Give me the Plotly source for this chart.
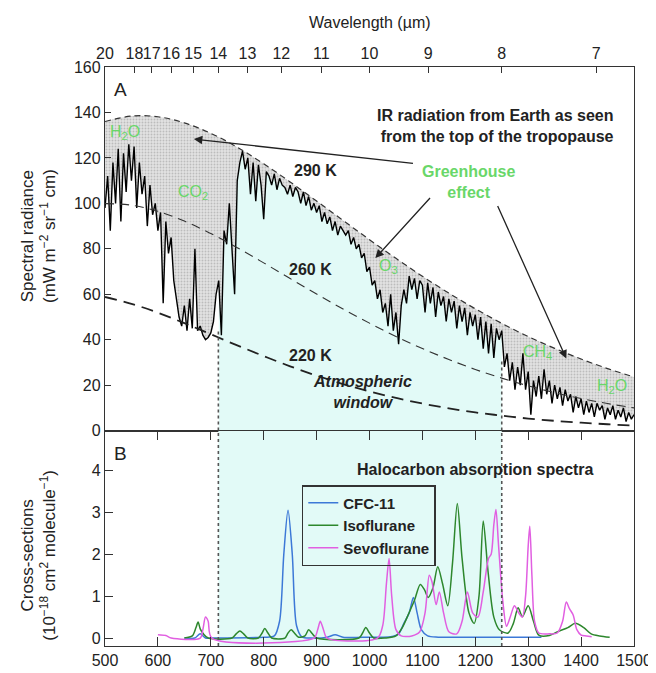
import plotly.graph_objects as go

# ---------------- data ----------------
# Panel A: measured spectrum (wavenumber cm-1, radiance mW m-2 sr-1 cm)
spec_nu = list(range(500, 1505, 5))
spec_rad = [
    98, 112, 88, 118, 100, 124, 92, 122, 105, 126,           # 500-545
    110, 125, 98, 118, 104, 112, 90, 108, 95, 100,           # 550-595
    88, 96, 56, 92, 78, 85, 66, 58, 50, 46,                  # 600-645
    55, 44, 58, 45, 80, 44, 46, 42, 40, 41,                  # 650-695
    43, 48, 60, 66, 42, 88, 82, 100, 77, 60,                 # 700-745
    110, 118, 123, 115, 120, 104, 118, 101, 117, 108,        # 750-795
    93, 114, 112, 108, 113, 106, 111, 108, 107, 104,         # 800-845
    108, 103, 107, 105, 100, 105, 99, 103, 97, 100,          # 850-895
    96, 99, 92, 96, 91, 94, 88, 92, 86, 90,                  # 900-945
    88, 86, 88, 82, 85, 80, 82, 76, 78, 70,                  # 950-995
    72, 64, 66, 58, 62, 52, 56, 46, 60, 44,                  # 1000-1045
    52, 38, 55, 62, 56, 68, 62, 67, 58, 66,                  # 1050-1095
    64, 52, 65, 56, 63, 50, 61, 55, 59, 48,                  # 1100-1145
    58, 52, 57, 45, 55, 48, 54, 42, 52, 46,                  # 1150-1195
    51, 40, 50, 36, 48, 34, 47, 32, 45, 40,                  # 1200-1245
    44, 28, 34, 22, 30, 18, 28, 20, 34, 18,                  # 1250-1295
    26, 7, 22, 15, 24, 14, 27, 16, 22, 12,                   # 1300-1345
    20, 14, 19, 11, 18, 13, 16, 8, 15, 10,                   # 1350-1395
    14, 7, 13, 8, 12, 6, 12, 9, 11, 5,                       # 1400-1445
    10, 7, 11, 5, 9, 6, 10, 4, 8, 5,                         # 1450-1495
    7,                                                       # 1500
]

# Blackbody reference curves
bb_nu = [500, 550, 600, 650, 700, 750, 800, 850, 900, 950, 1000,
         1050, 1100, 1150, 1200, 1250, 1300, 1350, 1400, 1450, 1500]
bb_290 = [136.0, 138.4, 138.1, 135.4, 130.8, 124.7, 117.4, 109.4, 101.0, 92.5, 84.0,
          75.8, 67.9, 60.5, 53.6, 47.2, 41.4, 36.2, 31.5, 27.3, 23.6]
bb_260 = [99.9, 99.2, 96.5, 92.2, 86.7, 80.5, 73.8, 66.9, 60.1, 53.5, 47.3,
          41.4, 36.1, 31.3, 26.9, 23.1, 19.7, 16.7, 14.1, 11.9, 10.0]
bb_220 = [58.8, 55.8, 51.9, 47.3, 42.4, 37.5, 32.8, 28.3, 24.2, 20.5, 17.2,
          14.4, 11.9, 9.8, 8.0, 6.6, 5.3, 4.3, 3.5, 2.8, 2.2]

# Panel B: halocarbon cross-sections (1e-18 cm2 molecule-1)
cfc_nu = [650, 670, 680, 690, 700, 800, 820, 830, 838, 846, 854, 862, 872, 890,
          920, 935, 950, 1000, 1040, 1055, 1065, 1075, 1083, 1090, 1098, 1110,
          1130, 1200, 1325]
cfc_val = [0.0, 0.0, 0.1, 0.0, 0.0, 0.02, 0.05, 0.4, 2.0, 3.05, 2.0, 0.3, 0.03, 0.0,
           0.02, 0.08, 0.02, 0.02, 0.03, 0.1, 0.35, 0.6, 0.97, 0.6, 0.2, 0.05,
           0.02, 0.02, 0.02]

iso_nu = [650, 665, 672, 676, 680, 686, 695, 740, 748, 755, 762, 770, 790, 797,
          802, 808, 815, 840, 846, 852, 858, 866, 878, 885, 892, 900, 980, 987,
          993, 1000, 1008, 1030, 1050, 1062, 1074, 1085, 1096, 1104, 1111, 1120,
          1129, 1138, 1148, 1157, 1166, 1175, 1188, 1198, 1207, 1215, 1224, 1235,
          1246, 1262, 1272, 1281, 1289, 1300, 1310, 1320, 1340, 1357, 1375, 1389,
          1405, 1419, 1435, 1454]
iso_val = [0.0, 0.05, 0.25, 0.38, 0.22, 0.1, 0.0, 0.0, 0.1, 0.17, 0.1, 0.0, 0.0, 0.12,
           0.23, 0.12, 0.0, 0.0, 0.12, 0.2, 0.12, 0.02, 0.05, 0.2, 0.1, 0.0, 0.0, 0.12,
           0.25, 0.12, 0.0, 0.0, 0.05, 0.25, 0.58, 0.9, 1.28, 1.15, 0.97, 1.2,
           1.7, 1.3, 0.77, 1.8, 3.21, 1.9, 0.6, 0.35, 1.0, 2.79, 1.6, 0.5,
           0.19, 0.12, 0.35, 0.72, 0.51, 0.77, 0.4, 0.07, 0.06, 0.16, 0.25, 0.35,
           0.25, 0.1, 0.05, 0.02]

sevo_nu = [600, 615, 625, 680, 685, 690, 695, 702, 895, 902, 907, 913, 920, 1015,
           1025, 1032, 1037, 1042, 1050, 1060, 1080, 1095, 1105, 1113, 1118, 1126,
           1132, 1140, 1150, 1165, 1175, 1185, 1195, 1205, 1215, 1225, 1230, 1235,
           1239, 1244, 1252, 1259, 1266, 1274, 1282, 1289, 1295, 1300, 1303, 1307,
           1312, 1320, 1340, 1355, 1365, 1372, 1378, 1385, 1392, 1400, 1410, 1420]
sevo_val = [0.08, 0.06, 0.0, 0.0, 0.2, 0.5, 0.4, 0.0, 0.0, 0.2, 0.4, 0.2, 0.0, 0.0,
            0.3, 1.3, 1.9, 1.0, 0.2, 0.05, 0.05, 0.15, 0.6, 1.5, 1.35, 0.8,
            1.1, 0.6, 0.15, 0.1, 0.4, 1.1, 0.6, 0.5, 1.1, 1.9, 2.0, 2.7,
            3.07, 2.2, 0.88, 0.28, 0.5, 0.77, 0.6, 0.5, 1.0, 2.2, 2.67, 1.5,
            0.4, 0.12, 0.1, 0.12, 0.4, 0.86, 0.7, 0.55, 0.2, 0.07, 0.05, 0.03]

# Axis ticks
wl_ticks = [20, 18, 17, 16, 15, 14, 13, 12, 11, 10, 9, 8, 7]
wl_labels = ["20", "18", "17", "16", "15", "14", "13", "12", "11", "10", "9", "8", "7"]
rad_ticks = [0, 20, 40, 60, 80, 100, 120, 140, 160]
xs_ticks = [0, 1, 2, 3, 4]
nu_ticks = [500, 600, 700, 800, 900, 1000, 1100, 1200, 1300, 1400, 1500]

window_lo = 10000 / 14   # 14 um
window_hi = 10000 / 8    # 8 um

# ---------------- figure ----------------
FONT = "Liberation Sans, Arial, sans-serif"
GREEN_TXT = "rgb(105,215,105)"
CYAN = "rgb(226,250,247)"

fig = go.Figure()

# cyan atmospheric window under the spectrum (panel A)
win_x = [n for n in spec_nu if window_lo <= n <= window_hi]
win_y = [r for n, r in zip(spec_nu, spec_rad) if window_lo <= n <= window_hi]
fig.add_trace(go.Scatter(x=win_x, y=win_y, fill="tozeroy", fillcolor=CYAN,
                         line=dict(width=0), mode="lines", showlegend=False,
                         hoverinfo="skip", xaxis="x", yaxis="y"))

# 290 K envelope (invisible) then spectrum filling up to it with dotted grey
fig.add_trace(go.Scatter(x=bb_nu, y=bb_290, mode="lines", line=dict(width=0, shape="spline"),
                         showlegend=False, hoverinfo="skip", xaxis="x", yaxis="y"))
fig.add_trace(go.Scatter(x=spec_nu, y=spec_rad, mode="lines", fill="tonexty",
                         fillpattern=dict(shape=".", bgcolor="rgb(226,226,226)",
                                          fgcolor="rgb(150,150,150)", size=3, solidity=0.3),
                         line=dict(color="black", width=1.4), showlegend=False,
                         xaxis="x", yaxis="y"))

# dashed blackbody curves
fig.add_trace(go.Scatter(x=bb_nu, y=bb_290, mode="lines",
                         line=dict(color="#333", width=1.2, dash="6px,4px", shape="spline"),
                         showlegend=False, xaxis="x", yaxis="y"))
fig.add_trace(go.Scatter(x=bb_nu, y=bb_260, mode="lines",
                         line=dict(color="#333", width=1.1, dash="9px,6px", shape="spline"),
                         showlegend=False, xaxis="x", yaxis="y"))
fig.add_trace(go.Scatter(x=bb_nu, y=bb_220, mode="lines",
                         line=dict(color="#222", width=1.8, dash="12px,7px", shape="spline"),
                         showlegend=False, xaxis="x", yaxis="y"))

# panel B curves
fig.add_trace(go.Scatter(x=cfc_nu, y=cfc_val, mode="lines", name="CFC-11",
                         line=dict(color="rgb(60,120,215)", width=1.5, shape="spline", smoothing=0.8),
                         xaxis="x2", yaxis="y2"))
fig.add_trace(go.Scatter(x=iso_nu, y=iso_val, mode="lines", name="Isoflurane",
                         line=dict(color="rgb(45,135,45)", width=1.5, shape="spline", smoothing=0.8),
                         xaxis="x2", yaxis="y2"))
fig.add_trace(go.Scatter(x=sevo_nu, y=sevo_val, mode="lines", name="Sevoflurane",
                         line=dict(color="rgb(225,95,225)", width=1.5, shape="spline", smoothing=0.8),
                         xaxis="x2", yaxis="y2"))

axis_common = dict(showgrid=False, zeroline=False, showline=True, linecolor="#333",
                   linewidth=1.3, tickcolor="#333", tickwidth=1.3, tickangle=0,
                   tickfont=dict(family=FONT, size=16, color="#222"))

fig.update_layout(
    width=656, height=673,
    margin=dict(l=97, r=19, t=59, b=20),
    paper_bgcolor="white", plot_bgcolor="white",
    font=dict(family=FONT, size=16, color="#222"),
    xaxis=dict(domain=[0, 1], range=[500, 1500], anchor="y", side="top",
               tickvals=[10000 / w for w in wl_ticks], ticktext=wl_labels,
               ticks="inside", ticklen=6, mirror=True, **axis_common),
    yaxis=dict(domain=[0.372, 1], range=[0, 160], tickvals=rad_ticks,
               ticks="inside", ticklen=6, mirror=True, **axis_common),
    xaxis2=dict(domain=[0, 1], range=[500, 1500], anchor="y2", tickvals=nu_ticks,
                ticks="inside", ticklen=9, mirror="ticks", **axis_common),
    yaxis2=dict(domain=[0, 0.372], range=[-0.19, 4.95], tickvals=xs_ticks,
                ticks="inside", ticklen=8, mirror=True, **axis_common),
    legend=dict(x=0.372, y=0.278, xanchor="left", yanchor="top", traceorder="normal",
                bordercolor="#333", borderwidth=1.5, bgcolor="rgba(255,255,255,0)",
                font=dict(family=FONT, size=15, color="#222", weight="bold"),
                tracegroupgap=0, itemwidth=30),
)

# cyan window in panel B and dotted boundaries
shapes = [
    dict(type="rect", xref="x2", yref="y2", x0=window_lo, x1=window_hi, y0=-0.19, y1=4.95,
         fillcolor=CYAN, line=dict(width=0), layer="below"),
]
for xv, ytop in [(window_lo, 44), (window_hi, 31)]:
    shapes.append(dict(type="line", xref="x", yref="y", x0=xv, x1=xv, y0=0, y1=ytop,
                       line=dict(color="#555", width=1.6, dash="dot")))
    shapes.append(dict(type="line", xref="x2", yref="y2", x0=xv, x1=xv, y0=-0.19, y1=4.95,
                       line=dict(color="#555", width=1.6, dash="dot")))
fig.update_layout(shapes=shapes)

def px2paper(px, py):
    return (px - 97) / 540, (653 - py) / 594

ann = []
def text(px, py, s, size=16, color="#222", bold=False, italic=False, xanchor="center", align="center", angle=0):
    xp, yp = px2paper(px, py)
    if bold:
        s = "<b>" + s + "</b>"
    if italic:
        s = "<i>" + s + "</i>"
    ann.append(dict(xref="paper", yref="paper", x=xp, y=yp, text=s, showarrow=False,
                    xanchor=xanchor, yanchor="middle", align=align, textangle=angle,
                    font=dict(family=FONT, size=size, color=color)))

text(368, 13, "Wavelength (µm)", size=16)
text(113, 82, "A", size=19)
text(113, 455, "B", size=19)
text(619, 120, "IR radiation from Earth as seen<br>from the top of the tropopause",
     bold=True, xanchor="right", align="right")
text(468, 177, "Greenhouse<br>effect", color=GREEN_TXT, bold=True)
text(312, 165, "290 K", bold=True)
text(307, 267, "260 K", bold=True)
text(307, 355, "220 K", bold=True)
text(360, 392, "Atmospheric<br>window", bold=True, italic=True)
text(117, 126, "H<sub>2</sub>O", color=GREEN_TXT)
text(187, 188, "CO<sub>2</sub>", color=GREEN_TXT)
text(386, 264, "O<sub>3</sub>", color=GREEN_TXT)
text(538, 352, "CH<sub>4</sub>", color=GREEN_TXT)
text(615, 387, "H<sub>2</sub>O", color=GREEN_TXT)
text(475, 472, "Halocarbon absorption spectra", bold=True)
text(29, 232, "Spectral radiance<br>(mW m<sup>−2</sup> sr<sup>−1</sup> cm)", size=17, angle=-90)
text(29, 560, "Cross-sections<br>(10<sup>−18</sup> cm<sup>2</sup> molecule<sup>−1</sup>)", size=17, angle=-90)

# greenhouse-effect arrows (data coordinates of panel A)
for (hx, hy, tx, ty) in [(668, 128.3, 1085, 117.5), (1011, 75.9, 1117, 103), (1372, 31.7, 1241, 99.5)]:
    ann.append(dict(xref="x", yref="y", axref="x", ayref="y", x=hx, y=hy, ax=tx, ay=ty,
                    text="", showarrow=True, arrowhead=2, arrowsize=1.3, arrowwidth=1.3,
                    arrowcolor="#222"))

fig.update_layout(annotations=ann)

fig.write_html("out.html")
